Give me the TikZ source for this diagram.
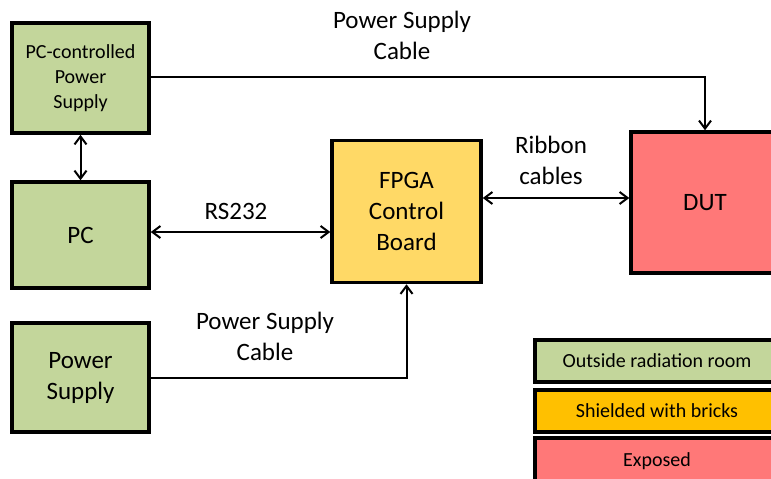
\documentclass[tikz,border=0pt]{standalone}
\usepackage{fontspec}
\setmainfont{Carlito}
\usepackage{tikz}
\usetikzlibrary{arrows.meta,positioning,calc}
\definecolor{roomGreen}{HTML}{C3D69B}
\definecolor{boardYellow}{HTML}{FFD966}
\definecolor{brickOrange}{HTML}{FFC000}
\definecolor{beamRed}{HTML}{FF7878}

\tikzset{
  unit/.style={draw=black, line width=3.5pt, rectangle, align=center,
    font=\fontsize{25}{31}\selectfont},
  small/.style={font=\fontsize{20}{25}\selectfont},
  link/.style={line width=2pt, {Straight Barb[length=8pt,width=12pt]}-{Straight Barb[length=8pt,width=12pt]}},
  feed/.style={line width=2pt, -{Straight Barb[length=8pt,width=12pt]}},
  lbl/.style={align=center, font=\fontsize{25}{31}\selectfont}
}

\begin{document}
\begin{tikzpicture}[x=1pt, y=-1pt]
  \clip (0,0) rectangle (771,479);
  \fill[white] (0,0) rectangle (771,479);
  % boxes on the bench
  \node[unit, small, fill=roomGreen, minimum width=137pt, minimum height=110pt] (psctrl) at (80.5,78) {PC-controlled\\Power\\Supply};
  \node[unit, fill=roomGreen, minimum width=137pt, minimum height=106pt] (pc) at (80.5,235) {PC};
  \node[unit, fill=roomGreen, minimum width=137pt, minimum height=109pt] (psu) at (80.5,377.5) {Power\\Supply};
  \node[unit, fill=boardYellow, minimum width=149pt, minimum height=142pt] (fpga) at (406.5,211.5) {FPGA\\Control\\Board};
  \node[unit, fill=beamRed, minimum width=148pt, minimum height=141pt] (dut) at (705,202.5) {DUT};
  % legend
  \node[unit, small, fill=roomGreen, minimum width=244pt, minimum height=42pt] (keyout) at (657,361) {Outside radiation room};
  \node[unit, small, fill=brickOrange, minimum width=244pt, minimum height=42pt] (keyshield) at (657,411) {Shielded with bricks};
  \node[unit, small, fill=beamRed, minimum width=244pt, minimum height=46pt] (keyexp) at (657,461) {Exposed};
  % cables
  \draw[feed] ([yshift=1pt]psctrl.east) -| (dut.north);
  \draw[link] (psctrl.south) -- (pc.north);
  \coordinate (rs) at ([yshift=3pt]pc.east);
  \draw[link] (rs) -- (rs -| fpga.west);
  \coordinate (rib) at ([yshift=4.5pt]dut.west);
  \draw[link] (rib -| fpga.east) -- (rib);
  \draw[feed] (psu.east) -| (fpga.south);
  % cable labels
  \node[lbl] (toplbl) at (402,35) {Power Supply\\Cable};
  \node[lbl] (rslbl) at (236,211) {RS232};
  \node[lbl] (riblbl) at (551,160) {Ribbon\\cables};
  \node[lbl] (botlbl) at (265,336) {Power Supply\\Cable};
\end{tikzpicture}
\end{document}
